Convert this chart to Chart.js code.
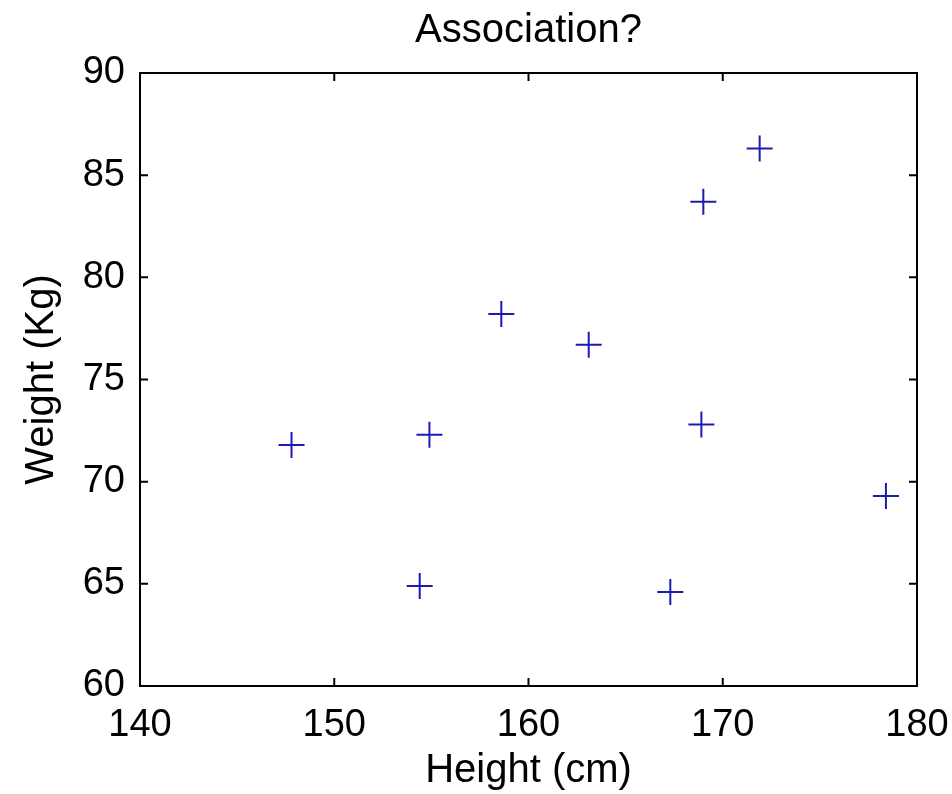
<!DOCTYPE html>
<html lang="en">
<head>
    <meta charset="UTF-8">
    <title>Association?</title>
    <script src="https://cdn.jsdelivr.net/npm/chart.js"></script>
    <style>
        body {
            margin: 0;
            padding: 0;
            background-color: white;
        }
        .chart-box {
            width: 952px;
            height: 794px;
        }
    </style>
</head>
<body>
    <div class="chart-box">
        <canvas id="scatterChart" width="952" height="794"></canvas>
    </div>

    <script>
        // Data
        const heights = [147.8, 154.4, 154.9, 158.6, 163.1, 167.3, 168.9, 169.0, 171.9, 178.4];
        const weights = [71.8, 64.9, 72.3, 78.2, 76.7, 64.6, 72.8, 83.7, 86.3, 69.3];
        const xTicks = [140, 150, 160, 170, 180];
        const yTicks = [60, 65, 70, 75, 80, 85, 90];
        const chartTitle = 'Association?';

        const points = heights.map((h, i) => ({ x: h, y: weights[i] }));

        const fontFamily = "'Liberation Sans', Arial, sans-serif";

        // Box round the plot, inward tick marks on all four sides,
        // and the title centred over the plot area (not the whole canvas)
        const boxPlugin = {
            id: 'matlabBox',
            afterDraw(chart) {
                const ctx = chart.ctx;
                const a = chart.chartArea;
                const xs = chart.scales.x;
                const ys = chart.scales.y;
                ctx.save();
                ctx.strokeStyle = '#000';
                ctx.lineWidth = 2;
                ctx.beginPath();
                xTicks.forEach(v => {
                    const px = xs.getPixelForValue(v);
                    ctx.moveTo(px, a.bottom);
                    ctx.lineTo(px, a.bottom - 8);
                    ctx.moveTo(px, a.top);
                    ctx.lineTo(px, a.top + 8);
                });
                yTicks.forEach(v => {
                    const py = ys.getPixelForValue(v);
                    ctx.moveTo(a.left, py);
                    ctx.lineTo(a.left + 8, py);
                    ctx.moveTo(a.right, py);
                    ctx.lineTo(a.right - 8, py);
                });
                ctx.stroke();
                ctx.strokeRect(a.left, a.top, a.right - a.left, a.bottom - a.top);

                ctx.fillStyle = '#000';
                ctx.font = '40px ' + fontFamily;
                ctx.textAlign = 'center';
                ctx.textBaseline = 'alphabetic';
                ctx.fillText(chartTitle, (a.left + a.right) / 2, 42);
                ctx.restore();
            }
        };

        const ctxScatter = document.getElementById('scatterChart').getContext('2d');
        const scatterChart = new Chart(ctxScatter, {
            type: 'scatter',
            data: {
                datasets: [{
                    data: points,
                    pointStyle: 'cross',
                    pointRadius: 13,
                    pointHoverRadius: 13,
                    borderColor: '#1c1cb4',
                    backgroundColor: '#1c1cb4',
                    borderWidth: 2
                }]
            },
            plugins: [boxPlugin],
            options: {
                responsive: false,
                animation: false,
                events: [],
                layout: {
                    padding: { left: 0, right: 35, top: 73, bottom: 0 }
                },
                plugins: {
                    legend: { display: false },
                    tooltip: { enabled: false },
                    title: { display: false }
                },
                scales: {
                    x: {
                        type: 'linear',
                        min: 140,
                        max: 180,
                        afterBuildTicks: s => { s.ticks = xTicks.map(v => ({ value: v })); },
                        afterFit: s => {
                            s.height = 108;
                            s.paddingLeft = 0;
                            s.paddingRight = 0;
                        },
                        grid: { display: false, drawTicks: false },
                        border: { display: false },
                        ticks: {
                            color: '#000',
                            padding: 17,
                            maxRotation: 0,
                            font: { family: fontFamily, size: 38 }
                        },
                        title: {
                            display: true,
                            text: 'Height (cm)',
                            color: '#000',
                            font: { family: fontFamily, size: 40, lineHeight: 1.0 },
                            padding: { top: 0, bottom: 3 }
                        }
                    },
                    y: {
                        type: 'linear',
                        min: 60,
                        max: 90,
                        afterBuildTicks: s => { s.ticks = yTicks.map(v => ({ value: v })); },
                        afterFit: s => {
                            s.width = 140;
                            s.paddingTop = 0;
                            s.paddingBottom = 0;
                        },
                        grid: { display: false, drawTicks: false },
                        border: { display: false },
                        ticks: {
                            color: '#000',
                            padding: 15,
                            font: { family: fontFamily, size: 38 }
                        },
                        title: {
                            display: true,
                            text: 'Weight (Kg)',
                            color: '#000',
                            font: { family: fontFamily, size: 40, lineHeight: 1.0 },
                            padding: { top: 22, bottom: 0 }
                        }
                    }
                }
            }
        });
    </script>
</body>
</html>
